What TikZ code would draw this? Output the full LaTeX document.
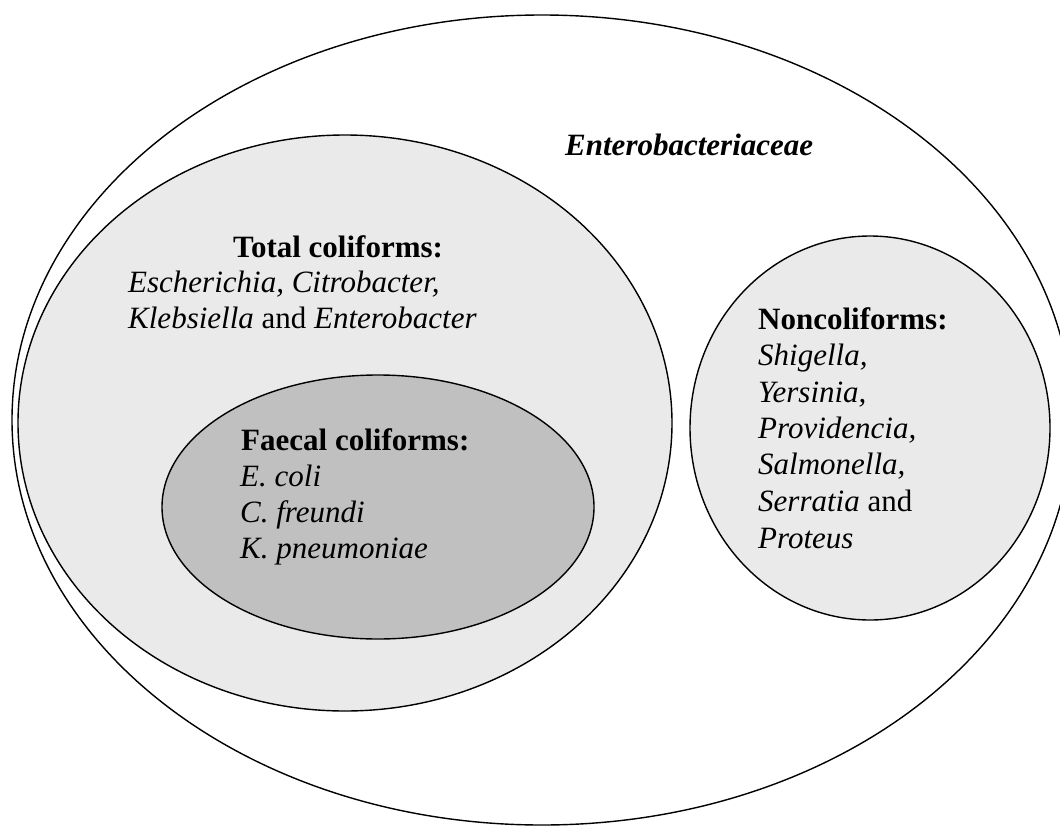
\documentclass[tikz,border=0pt]{standalone}
\usepackage{fontspec}
\setmainfont{Liberation Serif}
\usetikzlibrary{shapes.geometric}
\definecolor{lightfill}{HTML}{EAEAEA}
\definecolor{darkfill}{HTML}{C0C0C0}
\tikzset{
  set/.style={draw=black, line width=1.4pt, ellipse, inner sep=0pt},
  lbl/.style={anchor=base west, inner sep=0pt, font=\fontsize{31}{36}\selectfont},
}
\begin{document}
\begin{tikzpicture}[x=1pt,y=-1pt]
\useasboundingbox (0,0) rectangle (1060,827);
\clip (0,0) rectangle (1060,827);
% sets
\node[set, fill=white, minimum width=1060pt, minimum height=810pt] (outer) at (542,420) {};
\node[set, fill=lightfill, minimum width=654pt, minimum height=576pt] (total) at (345,423) {};
\node[set, fill=darkfill, minimum width=432pt, minimum height=264pt] (faecal) at (378,507) {};
\node[set, fill=lightfill, minimum width=360pt, minimum height=384pt] (noncoli) at (870,428) {};
% labels
\node[lbl] (entero) at (565,155) {\textbf{\textit{Enterobacteriaceae}}};
\node[lbl] (totalt) at (233,257) {\textbf{Total coliforms:}};
\node[lbl] (total1) at (128,292) {\textit{Escherichia, Citrobacter,}};
\node[lbl] (total2) at (128,328) {\textit{Klebsiella} and \textit{Enterobacter}};
\node[lbl] (faecalt) at (241,450) {\textbf{Faecal coliforms:}};
\node[lbl] (faecal1) at (240,486) {\textit{E. coli}};
\node[lbl] (faecal2) at (240,522) {\textit{C. freundi}};
\node[lbl] (faecal3) at (240,558) {\textit{K. pneumoniae}};
\node[lbl] (nonct) at (758,329) {\textbf{Noncoliforms:}};
\node[lbl] (nonc1) at (758,365) {\textit{Shigella,}};
\node[lbl] (nonc2) at (758,402) {\textit{Yersinia,}};
\node[lbl] (nonc3) at (758,438) {\textit{Providencia,}};
\node[lbl] (nonc4) at (758,474) {\textit{Salmonella,}};
\node[lbl] (nonc5) at (758,511) {\textit{Serratia} and};
\node[lbl] (nonc6) at (758,548) {\textit{Proteus}};
\end{tikzpicture}
\end{document}
